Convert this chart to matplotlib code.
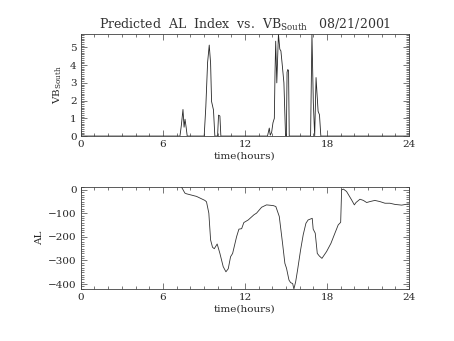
import numpy as np
import matplotlib.pyplot as plt
from matplotlib.ticker import MultipleLocator

# VB south (mV/m) vs time in hours
t_vb = [0.0, 7.25, 7.35, 7.47, 7.55, 7.62, 7.7, 7.78,
        9.02, 9.14, 9.27, 9.39, 9.49, 9.56, 9.7, 9.8,
        10.0, 10.07, 10.17, 10.24,
        13.65, 13.78, 13.85, 13.95, 14.05, 14.15, 14.2, 14.25, 14.33, 14.45,
        14.55, 14.63, 14.73, 14.85, 14.97, 15.03, 15.08, 15.13, 15.19, 15.24,
        16.8, 16.9, 17.0, 17.1, 17.2, 17.27, 17.35, 17.45, 17.55, 24.0]
vb = [0.0, 0.0, 0.6, 1.5, 0.5, 0.95, 0.5, 0.0,
      0.0, 1.65, 4.15, 5.13, 4.1, 1.95, 1.47, 0.0,
      0.0, 1.18, 1.13, 0.0,
      0.0, 0.45, 0.05, 0.2, 0.75, 1.0, 3.6, 5.35, 3.0, 5.75,
      4.9, 4.8, 4.0, 3.0, 0.0, 0.0, 3.6, 3.75, 3.7, 0.0,
      0.0, 5.75, 1.9, 0.0, 3.3, 2.4, 1.4, 1.2, 0.0, 0.0]

# predicted AL index (nT)
t_al = [7.37, 7.61, 7.73, 8.46, 9.07, 9.19, 9.36, 9.49, 9.63, 9.76, 9.97,
        10.17, 10.41, 10.61, 10.78, 10.95, 11.1, 11.39, 11.56, 11.76, 11.92,
        12.24, 12.66, 12.85, 13.22, 13.58, 14.07, 14.26, 14.51, 14.75, 14.92,
        15.04, 15.22, 15.34, 15.49, 15.58, 15.71, 15.85, 16.07, 16.26, 16.46,
        16.62, 16.92, 16.99, 17.14, 17.29, 17.44, 17.63, 17.97, 18.29, 18.58,
        18.82, 19.0, 19.07, 19.2, 19.43, 19.8, 20.0, 20.12, 20.41, 20.66,
        20.9, 21.14, 21.5, 21.87, 22.24, 22.6, 22.97, 23.46, 23.95]
al = [11, -14, -17, -28, -45, -51, -99, -213, -244, -250, -230,
      -270, -326, -348, -335, -284, -270, -199, -167, -165, -139,
      -128, -106, -99, -74, -64, -67, -71, -113, -227, -312,
      -333, -383, -394, -398, -421, -390, -340, -255, -191, -142,
      -128, -121, -167, -184, -270, -281, -291, -262, -227, -184,
      -149, -138, 0, 3, -7, -43, -64, -54, -40, -45,
      -54, -50, -45, -50, -57, -57, -62, -65, -60]

plt.rcParams['font.family'] = 'DejaVu Serif'
plt.rcParams['font.size'] = 7.5
plt.rcParams['mathtext.fontset'] = 'dejavuserif'

fig = plt.figure(figsize=(4.54, 3.41), dpi=100)
ax1 = fig.add_axes([0.178, 0.601, 0.723, 0.299])
ax2 = fig.add_axes([0.178, 0.1525, 0.723, 0.2985])

ink = '0.25'


def style(ax, ymaj, ymin):
    ax.set_xlim(0, 24)
    ax.xaxis.set_major_locator(MultipleLocator(6))
    ax.xaxis.set_minor_locator(MultipleLocator(1))
    ax.yaxis.set_major_locator(MultipleLocator(ymaj))
    ax.yaxis.set_minor_locator(MultipleLocator(ymin))
    ax.tick_params(which='both', direction='in', top=True, right=True,
                   color=ink, width=0.5, labelcolor='0.15', pad=3)
    ax.tick_params(which='major', length=4)
    ax.tick_params(which='minor', length=2)
    for s in ax.spines.values():
        s.set_linewidth(0.6)
        s.set_color(ink)
    ax.set_xlabel('time(hours)', labelpad=2, color='0.15', fontsize=7.5)


ax1.plot(t_vb, vb, color='0.15', lw=0.6)
ax1.set_ylim(0, 5.75)
style(ax1, 1, 0.1)
ax1.set_ylabel(r'VB$_{\mathrm{South}}$', color='0.15', fontsize=7.5, labelpad=4)
ax1.set_title(r'Predicted  AL  Index  vs.  VB$_{\mathrm{South}}$   08/21/2001',
              fontsize=9, color='0.2', pad=4)

ax2.plot(t_al, al, color='0.2', lw=0.6)
ax2.set_ylim(-421, 11)
style(ax2, 100, 10)
ax2.set_yticks([0, -100, -200, -300, -400])
ax2.set_yticklabels(['0', '\u2212100', '\u2212200', '\u2212300', '\u2212400'])
ax2.set_ylabel('AL', color='0.15', fontsize=7.5, labelpad=3)

fig.savefig('out.png', dpi=100)
